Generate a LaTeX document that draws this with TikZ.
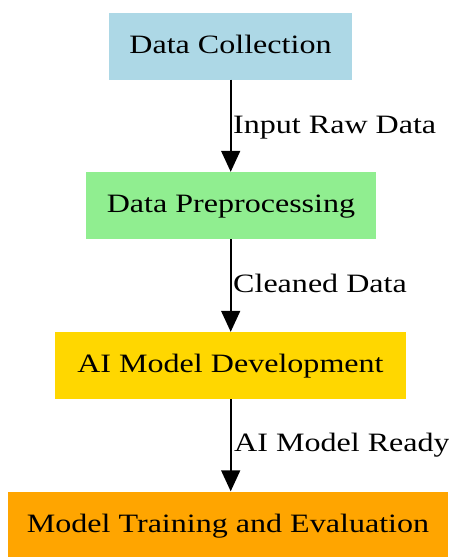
\documentclass[tikz,border=0pt]{standalone}
\usepackage{fontspec}
\setmainfont{Liberation Serif}[FakeStretch=1.21]
\usetikzlibrary{arrows.meta}
\definecolor{cLightBlue}{HTML}{ADD8E6}
\definecolor{cLightGreen}{HTML}{90EE90}
\definecolor{cGold}{HTML}{FFD700}
\definecolor{cOrange}{HTML}{FFA500}
\begin{document}
\begin{tikzpicture}[x=1pt,y=-1pt,
  stepbox/.style={rectangle, draw=none, inner sep=0pt, minimum height=67pt,
    text height=20pt, text depth=6pt, font=\fontsize{26.5}{30}\selectfont},
  flow/.style={line width=1.6pt, -{Triangle[length=21pt,width=19pt]}},
  edgelabel/.style={anchor=base west, inner sep=0pt, font=\fontsize{26.5}{30}\selectfont}]
\useasboundingbox (0,0) rectangle (449,557);
\node[stepbox, fill=cLightBlue, minimum width=243pt] (n1) at (230.5,46) {Data Collection};
\node[stepbox, fill=cLightGreen, minimum width=290pt] (n2) at (231,205.5) {Data Preprocessing};
\node[stepbox, fill=cGold, minimum width=351pt] (n3) at (230.5,365.5) {AI Model Development};
\node[stepbox, fill=cOrange, minimum width=440pt] (n4) at (228,525) {Model Training and Evaluation};
\draw[flow] (n1.south -| 230.7,0) -- (n2.north -| 230.7,0);
\draw[flow] (n2.south -| 230.7,0) -- (n3.north -| 230.7,0);
\draw[flow] (n3.south -| 230.7,0) -- (n4.north -| 230.7,0);
\node[edgelabel] (l1) at (233,133) {Input Raw Data};
\node[edgelabel] (l2) at (233,292) {Cleaned Data};
\node[edgelabel] (l3) at (234,451) {AI Model Ready};
\end{tikzpicture}
\end{document}
